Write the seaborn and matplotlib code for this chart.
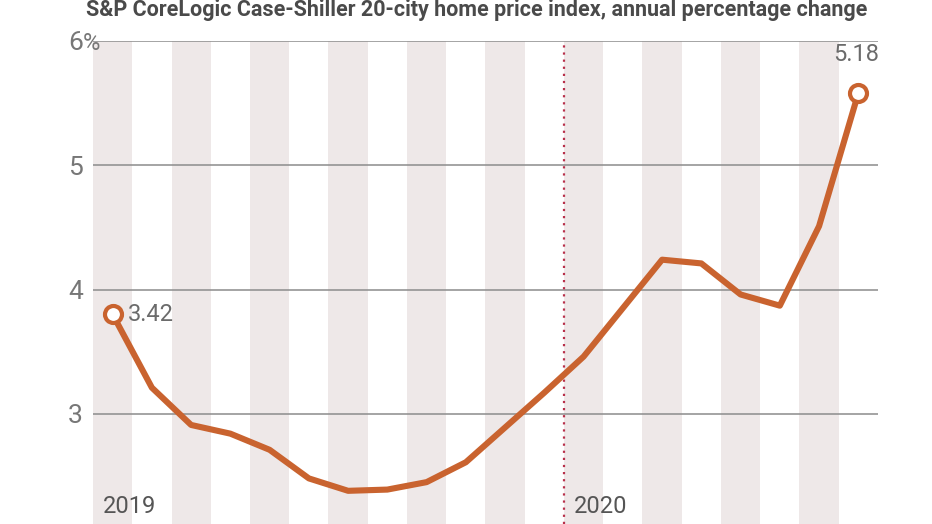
import matplotlib
matplotlib.use('Agg')
import matplotlib.pyplot as plt
import matplotlib.transforms as mtransforms
import pandas as pd
import seaborn as sns

# Monatswerte Jan 2019 - Aug 2020 (Position)
months = ['Jan 2019', 'Feb 2019', 'Mar 2019', 'Apr 2019', 'May 2019', 'Jun 2019',
          'Jul 2019', 'Aug 2019', 'Sep 2019', 'Oct 2019', 'Nov 2019', 'Dec 2019',
          'Jan 2020', 'Feb 2020', 'Mar 2020', 'Apr 2020', 'May 2020', 'Jun 2020',
          'Jul 2020', 'Aug 2020']
values = [3.80, 3.21, 2.91, 2.84, 2.71, 2.48, 2.38, 2.39, 2.45, 2.61,
          2.89, 3.17, 3.46, 3.85, 4.24, 4.21, 3.96, 3.87, 4.51, 5.58]
end_labels = ['3.42', '5.18']
yticks = [3, 4, 5, 6]
ytick_labels = ['3', '4', '5', '6']
year_labels = ['2019', '2020']
year_starts = [0, 12]

title = "S&P CoreLogic Case-Shiller 20-city home price index, annual percentage change"

df = pd.DataFrame({'month': months, 'value': values})
df['idx'] = range(len(df))

sns.set_style('white')
plt.rcParams['font.family'] = ['Roboto', 'DejaVu Sans']

line_color = '#C9632F'
text_color = '#6b6b6b'

fig = plt.figure(figsize=(9.32, 5.24), dpi=100)
ax = fig.add_axes([0.0998, 0.0, 0.8422, 0.9218])

# abwechselnde Monatsstreifen
for i in range(0, len(months), 2):
    ax.axvspan(i - 0.5, i + 0.5, color='#EEE8E8', lw=0, zorder=0)

for y in yticks:
    ax.axhline(y, color='#8c8c8c', lw=1.1, zorder=1)

# Jahreswechsel
ax.axvline(11.5, color='#B8304A', lw=1.6, ls=(0, (1, 2.2)), zorder=2)

sns.lineplot(data=df, x='idx', y='value', color=line_color, lw=4.4, ax=ax, zorder=3)
ends = df.iloc[[0, -1]]
ax.scatter(ends['idx'], ends['value'], s=150, facecolor='white', edgecolor=line_color,
           linewidth=3, zorder=4)

ax.text(ends['idx'].iloc[0] + 0.4, ends['value'].iloc[0], end_labels[0], ha='left',
        va='center', fontsize=17, color=text_color)
ax.text(ends['idx'].iloc[1] - 0.05, ends['value'].iloc[1] + 0.22, end_labels[1], ha='center',
        va='bottom', fontsize=17, color=text_color)

for x0, lab in zip(year_starts, year_labels):
    ax.text(x0 - 0.25, 2.16, lab, ha='left', va='bottom', fontsize=17, color='#555555')

# y-Achsenbeschriftung
trans = mtransforms.blended_transform_factory(ax.transAxes, ax.transData)
for y, lab in zip(yticks, ytick_labels):
    ax.text(-0.013, y, lab, transform=trans, ha='right', va='center_baseline',
            fontsize=19, color='#777777')
ax.text(-0.013, yticks[-1], '%', transform=trans, ha='left', va='center_baseline',
        fontsize=17, color='#777777')

ax.set_xlim(-0.5, len(months) - 0.5)
ax.set_ylim(2.113, 6.0)
ax.set_xticks([])
ax.set_yticks([])
ax.set_xlabel('')
ax.set_ylabel('')
sns.despine(ax=ax, left=True, bottom=True)

fig.text(0.511, 1 - 16 / 524, title, ha='center', va='baseline', fontsize=15.5,
         fontweight='bold', color='#4a4a4a')

fig.savefig('out.png', dpi=100)
